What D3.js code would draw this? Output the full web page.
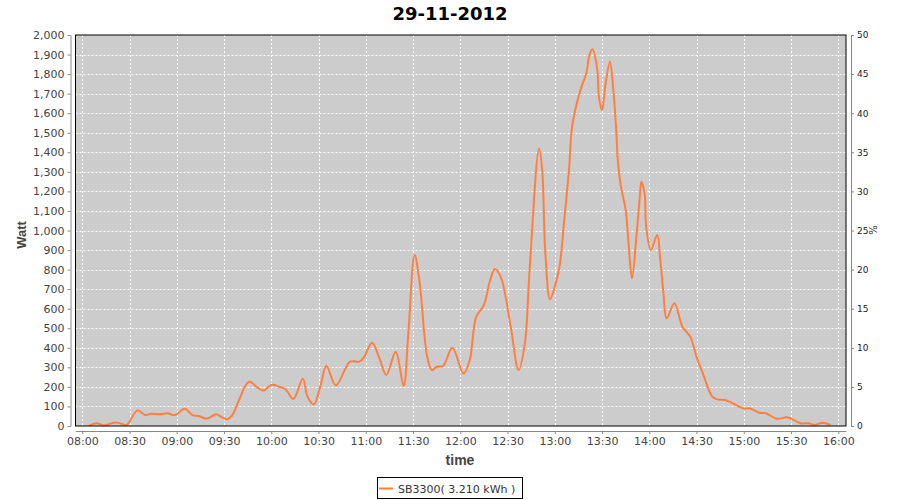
<!DOCTYPE html>
<html>
<head>
<meta charset="utf-8">
<script src="https://cdn.jsdelivr.net/npm/d3@7"></script>
<style>
  body { margin: 0; background: #fff; }
  svg { display: block; }
</style>
</head>
<body>
<svg id="chart" width="900" height="500"></svg>
<script>
// readings from the inverter (time of day, watt)
const times = [
  "08:04","08:09","08:14","08:20","08:23","08:28","08:35","08:40","08:44","08:49",
  "08:54","08:59","09:05","09:10","09:14","09:19","09:25","09:28","09:32","09:35",
  "09:40","09:43","09:46","09:51","09:55","10:00","10:05","10:09","10:14","10:20",
  "10:23","10:27","10:31","10:35","10:41","10:50","10:56","10:59","11:04","11:09",
  "11:13","11:19","11:24","11:27","11:31","11:34","11:39","11:42","11:45","11:49",
  "11:55","12:02","12:06","12:10","12:15","12:19","12:22","12:26","12:32","12:37",
  "12:41","12:44","12:50","12:52","12:54","12:57","13:00","13:03","13:06","13:09",
  "13:11","13:14","13:17","13:20","13:22","13:24","13:27","13:28","13:30","13:32",
  "13:35","13:37","13:39","13:40","13:42","13:45","13:47","13:49","13:52","13:54",
  "13:55","13:57","13:58","14:01","14:05","14:07","14:09","14:11","14:16","14:21",
  "14:26","14:30","14:34","14:40","14:43","14:48","14:53","15:00","15:04","15:10",
  "15:14","15:21","15:28","15:36","15:41","15:45","15:50","15:55"
];
const watts = [
  0, 14, 3, 17, 16, 5, 80, 56, 63, 60,
  65, 56, 88, 56, 51, 37, 60, 48, 34, 53,
  142, 198, 227, 198, 181, 210, 201, 188, 138, 242,
  150, 111, 198, 307, 208, 329, 329, 354, 426, 338,
  261, 380, 205, 474, 875, 747, 354, 286, 303, 307,
  400, 269, 337, 556, 619, 747, 803, 755, 508, 286,
  423, 798, 1420, 1309, 883, 648, 713, 815, 1054, 1309,
  1531, 1651, 1736, 1804, 1898, 1927, 1821, 1684, 1616, 1736,
  1863, 1736, 1514, 1361, 1224, 1105, 917, 755, 986, 1173,
  1250, 1190, 1020, 900, 977, 849, 679, 551, 628, 508,
  457, 354, 269, 150, 136, 133, 116, 90, 90, 68,
  65, 37, 44, 14, 14, 5, 17, 5
];
const xTickLabels = ["08:00","08:30","09:00","09:30","10:00","10:30","11:00","11:30",
  "12:00","12:30","13:00","13:30","14:00","14:30","15:00","15:30","16:00"];
const title = "29-11-2012";
const seriesName = "SB3300( 3.210 kWh )";

const parse = d3.timeParse("%H:%M");
const data = times.map((t, i) => ({ t: parse(t), w: watts[i] }));

const svg = d3.select("#chart");
const plotL = 75.5, plotR = 846, plotT = 35, plotB = 426;

const x = d3.scaleTime()
  .domain([d3.timeParse("%H:%M:%S")("07:55:41"), d3.timeParse("%H:%M:%S")("16:04:54")])
  .range([plotL, plotR]);
const y = d3.scaleLinear().domain([0, 2000]).range([plotB, plotT]);
const yPct = d3.scaleLinear().domain([0, 50]).range([plotB, plotT]);

const xTicks = xTickLabels.map(parse);
const yTicks = d3.range(0, 2001, 100);

// plot background
svg.append("rect")
  .attr("x", plotL).attr("y", plotT)
  .attr("width", plotR - plotL).attr("height", plotB - plotT)
  .attr("fill", "#cccccc");

// grid lines
const grid = svg.append("g").attr("stroke", "#fff").attr("stroke-width", 1)
  .attr("stroke-dasharray", "2,2");
grid.selectAll(".gx").data(xTicks).enter().append("line")
  .attr("x1", d => Math.round(x(d)) + 0.5).attr("x2", d => Math.round(x(d)) + 0.5)
  .attr("y1", plotT).attr("y2", plotB);
grid.selectAll(".gy").data(yTicks.slice(1, -1)).enter().append("line")
  .attr("y1", d => Math.round(y(d)) + 0.5).attr("y2", d => Math.round(y(d)) + 0.5)
  .attr("x1", plotL).attr("x2", plotR);

// the series
svg.append("clipPath").attr("id", "clip").append("rect")
  .attr("x", plotL).attr("y", plotT).attr("width", plotR - plotL).attr("height", plotB - plotT);

const line = d3.line()
  .x(d => x(d.t))
  .y(d => y(d.w))
  .curve(d3.curveCatmullRom.alpha(0.5));

svg.append("path")
  .datum(data)
  .attr("clip-path", "url(#clip)")
  .attr("fill", "none")
  .attr("stroke", "#ff7f3f")
  .attr("stroke-width", 2)
  .attr("d", line);

// plot border
svg.append("rect")
  .attr("x", plotL).attr("y", plotT)
  .attr("width", plotR - plotL).attr("height", plotB - plotT)
  .attr("fill", "none").attr("stroke", "#000").attr("stroke-width", 1);

// axes
function styleAxis(g, size) {
  g.selectAll("path.domain").attr("stroke", "#888");
  g.selectAll(".tick line").attr("stroke", "#888");
  g.selectAll(".tick text").attr("fill", "#444")
    .attr("font-family", "DejaVu Sans").attr("font-size", size);
}

svg.append("g")
  .attr("transform", `translate(${plotL - 5},0)`)
  .call(d3.axisLeft(y).tickValues(yTicks).tickFormat(d3.format(",")).tickSize(3).tickSizeOuter(0).tickPadding(3))
  .call(g => styleAxis(g, "11px"));

svg.append("g")
  .attr("transform", `translate(${plotR + 5},0)`)
  .call(d3.axisRight(yPct).tickValues(d3.range(0, 51, 5)).tickSize(3).tickSizeOuter(0).tickPadding(3))
  .call(g => styleAxis(g, "9px"))
  .call(g => g.selectAll(".tick text").attr("fill", "#222"));

svg.append("g")
  .attr("transform", `translate(0,${plotB + 5})`)
  .call(d3.axisBottom(x).tickValues(xTicks).tickFormat(d3.timeFormat("%H:%M")).tickSize(3).tickSizeOuter(0).tickPadding(3))
  .call(g => styleAxis(g, "11px"));

// titles
svg.append("text")
  .attr("x", 450).attr("y", 20)
  .attr("text-anchor", "middle")
  .attr("font-family", "DejaVu Sans").attr("font-weight", "bold").attr("font-size", "18px")
  .attr("fill", "#000")
  .text(title);

svg.append("text")
  .attr("transform", "translate(26,235) rotate(-90)")
  .attr("text-anchor", "middle")
  .attr("font-family", "Liberation Sans").attr("font-weight", "bold").attr("font-size", "13px")
  .attr("fill", "#444")
  .text("Watt");

svg.append("text")
  .attr("x", 460).attr("y", 465)
  .attr("text-anchor", "middle")
  .attr("font-family", "Liberation Sans").attr("font-weight", "bold").attr("font-size", "14px")
  .attr("fill", "#444")
  .text("time");

svg.append("text")
  .attr("transform", "translate(877,230) rotate(-90)")
  .attr("text-anchor", "middle")
  .attr("font-family", "DejaVu Sans").attr("font-size", "10px")
  .attr("fill", "#222")
  .text("%");

// legend
const legend = svg.append("g");
legend.append("rect")
  .attr("x", 377.5).attr("y", 477.5).attr("width", 145).attr("height", 21)
  .attr("fill", "#fff").attr("stroke", "#000");
legend.append("line")
  .attr("x1", 379).attr("x2", 393).attr("y1", 488.5).attr("y2", 488.5)
  .attr("stroke", "#ff7f3f").attr("stroke-width", 2);
legend.append("text")
  .attr("x", 398).attr("y", 492.5)
  .attr("font-family", "DejaVu Sans").attr("font-size", "11px")
  .attr("fill", "#333")
  .text(seriesName);
</script>
</body>
</html>
